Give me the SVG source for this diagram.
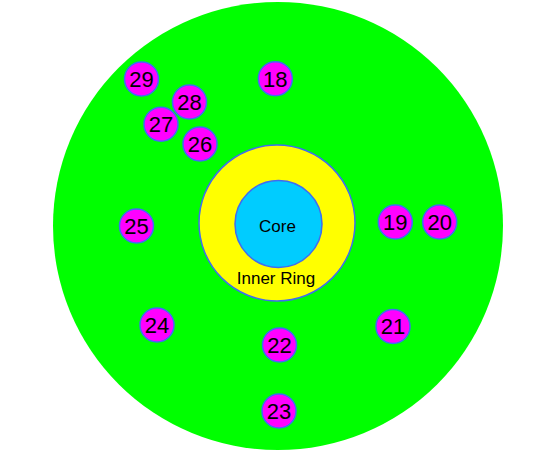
<svg xmlns="http://www.w3.org/2000/svg" width="540" height="452" viewBox="0 0 540 452">
<style>
.t{font-family:"Liberation Sans",Arial,sans-serif;fill:#000;text-anchor:middle}
.n circle{fill:#FF00FF;stroke:#3F6CF0;stroke-width:1.5}
.n text{font-size:22px}
.l{font-size:17px}
</style>
<rect width="540" height="452" fill="#fff"/>
<g id="outer"><ellipse cx="278" cy="226" rx="225" ry="224" fill="#00FF00"/></g>
<g id="inner-ring"><circle cx="277" cy="223" r="78" fill="#FFFF00" stroke="#3F6CF0" stroke-width="1.5"/><text class="t l" x="276" y="284">Inner Ring</text></g>
<g id="core"><circle cx="278.5" cy="224" r="43.5" fill="#00CCFF" stroke="#3F6CF0" stroke-width="1.5"/><text class="t l" x="277.5" y="231.5">Core</text></g>
<g id="connectors"></g>
<g id="n18" class="n"><circle cx="275.3" cy="78.7" r="17"/><text class="t" x="275.3" y="86.6">18</text></g>
<g id="n19" class="n"><circle cx="395.3" cy="222" r="17"/><text class="t" x="395.3" y="229.9">19</text></g>
<g id="n20" class="n"><circle cx="439.7" cy="222" r="17"/><text class="t" x="439.7" y="229.9">20</text></g>
<g id="n21" class="n"><circle cx="393" cy="326.5" r="17"/><text class="t" x="393" y="334.4">21</text></g>
<g id="n22" class="n"><circle cx="279.5" cy="345" r="17"/><text class="t" x="279.5" y="352.9">22</text></g>
<g id="n23" class="n"><circle cx="279" cy="411" r="17"/><text class="t" x="279" y="418.9">23</text></g>
<g id="n24" class="n"><circle cx="157" cy="325" r="17"/><text class="t" x="157" y="332.9">24</text></g>
<g id="n25" class="n"><circle cx="136.5" cy="226" r="17"/><text class="t" x="136.5" y="233.9">25</text></g>
<g id="n26" class="n"><circle cx="200" cy="144" r="17"/><text class="t" x="200" y="151.9">26</text></g>
<g id="n27" class="n"><circle cx="161" cy="124.3" r="17"/><text class="t" x="161" y="132.2">27</text></g>
<g id="n28" class="n"><circle cx="189.5" cy="102" r="17"/><text class="t" x="189.5" y="109.9">28</text></g>
<g id="n29" class="n"><circle cx="141.5" cy="79" r="17"/><text class="t" x="141.5" y="86.9">29</text></g>
</svg>
